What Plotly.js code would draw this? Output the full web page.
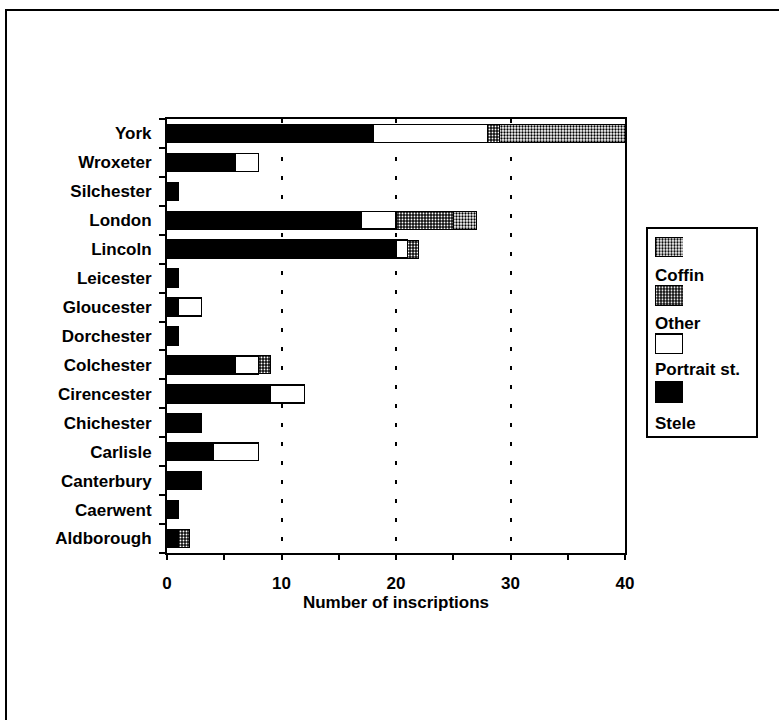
<!DOCTYPE html>
<html>
<head>
<meta charset="utf-8">
<script src="https://cdn.plot.ly/plotly-3.0.1.min.js"></script>
<style>
  html, body { margin: 0; padding: 0; background: #fff; }
  #chart { width: 779px; height: 720px; }
</style>
</head>
<body>
<div id="chart"></div>
<script>
// Categories, bottom to top
const cities = ['Aldborough','Caerwent','Canterbury','Carlisle','Chichester','Cirencester',
  'Colchester','Dorchester','Gloucester','Leicester','Lincoln','London','Silchester','Wroxeter','York'];
// Series values (number of inscriptions)
const stele    = [1, 1, 3, 4, 3, 9, 6, 1, 1, 1, 20, 17, 1, 6, 18];
const portrait = [0, 0, 0, 4, 0, 3, 2, 0, 2, 0, 1, 3, 0, 2, 10];
const other    = [1, 0, 0, 0, 0, 0, 1, 0, 0, 0, 1, 5, 0, 0, 1];
const coffin   = [0, 0, 0, 0, 0, 0, 0, 0, 0, 0, 0, 2, 0, 0, 11];
// Legend entries (top to bottom in the key)
const legendNames = ['Coffin', 'Other', 'Portrait st.', 'Stele'];
const xTicks = [0, 10, 20, 30, 40];

const FONT = 'Liberation Sans, Arial, Helvetica, sans-serif';
const FW = 'bold';

const styles = {
  'Stele':        {color: '#000', line: {color: '#000', width: 1.5}},
  'Portrait st.': {color: '#fff', line: {color: '#000', width: 1.5}},
  'Other':        {color: '#000', line: {color: '#000', width: 1},
                   pattern: {shape: '.', bgcolor: '#111', fgcolor: '#fff', size: 3, solidity: 0.3, fillmode: 'replace'}},
  'Coffin':       {color: '#000', line: {color: '#000', width: 1},
                   pattern: {shape: '.', bgcolor: '#fff', fgcolor: '#000', size: 3, solidity: 0.45, fillmode: 'replace'}}
};

const series = [['Stele', stele], ['Portrait st.', portrait], ['Other', other], ['Coffin', coffin]];

const traces = series.map(([name, vals]) => ({
  type: 'bar', orientation: 'h', name: name,
  x: vals, y: cities,
  marker: styles[name],
  xaxis: 'x', yaxis: 'y',
  showlegend: false, hoverinfo: 'x+y+name'
}));

// Legend swatches, drawn as bars in a small subplot
legendNames.forEach(name => {
  traces.push({
    type: 'bar', orientation: 'h', name: name,
    x: [1], y: [name], width: 0.41,
    marker: styles[name],
    xaxis: 'x2', yaxis: 'y2', showlegend: false, hoverinfo: 'skip'
  });
});

const W = 779, H = 720;
const px = v => v / W;
const py = v => (H - v) / H;

const layout = {
  width: W, height: H,
  margin: {l: 0, r: 0, t: 0, b: 0},
  paper_bgcolor: '#fff', plot_bgcolor: 'rgba(0,0,0,0)',
  font: {family: FONT, size: 17, color: '#000', weight: FW},
  barmode: 'stack', bargap: 0.38,
  showlegend: false,
  xaxis: {
    domain: [px(167), px(625)], range: [0, 40], automargin: false,
    tickvals: xTicks, ticktext: xTicks.map(String),
    ticks: 'outside', ticklen: 5, tickwidth: 2, tickcolor: '#000',
    minor: {dtick: 5, ticks: 'outside', ticklen: 5, tickwidth: 2, tickcolor: '#000', showgrid: false},
    ticklabelstandoff: 9,
    showline: true, linecolor: '#000', linewidth: 2, mirror: true,
    showgrid: true, gridcolor: '#000', gridwidth: 2, griddash: '4px,15px',
    zeroline: false,
    tickfont: {size: 17, family: FONT, weight: FW},
    title: {text: 'Number of inscriptions', font: {size: 17, family: FONT, weight: FW}, standoff: 4}
  },
  yaxis: {
    domain: [py(553), py(119)], automargin: false,
    type: 'category', categoryorder: 'array', categoryarray: cities,
    range: [-0.5, 14.5],
    tickson: 'boundaries', ticks: 'outside', ticklen: 6, tickwidth: 2, tickcolor: '#000',
    ticklabelstandoff: 10,
    showline: true, linecolor: '#000', linewidth: 2, mirror: true,
    showgrid: false, zeroline: false,
    tickfont: {size: 17, family: FONT, weight: FW}
  },
  xaxis2: {
    domain: [px(655), px(683)], range: [0, 1], anchor: 'y2',
    visible: false, fixedrange: true
  },
  yaxis2: {
    domain: [py(416.15), py(222.85)], anchor: 'x2',
    type: 'category', categoryorder: 'array', categoryarray: legendNames.slice().reverse(),
    range: [-0.5, 3.5], visible: false, fixedrange: true
  },
  shapes: [
    // outer frame
    {type: 'rect', xref: 'paper', yref: 'paper', x0: px(6), x1: 1.05, y0: -0.05, y1: py(10),
     line: {color: '#000', width: 2}, fillcolor: 'rgba(0,0,0,0)'},
    // legend box
    {type: 'rect', xref: 'paper', yref: 'paper', x0: px(647), x1: px(757), y0: py(437), y1: py(228),
     line: {color: '#000', width: 2}, fillcolor: 'rgba(0,0,0,0)'}
  ],
  annotations: legendNames.map((name, i) => ({
    xref: 'paper', yref: 'paper', x: px(653), y: py([275, 323, 370, 423][i]),
    xanchor: 'left', yanchor: 'middle', showarrow: false,
    text: name, font: {size: 17, family: FONT, color: '#000', weight: FW}
  }))
};

Plotly.newPlot('chart', traces, layout, {displayModeBar: false, staticPlot: true});
</script>
</body>
</html>
